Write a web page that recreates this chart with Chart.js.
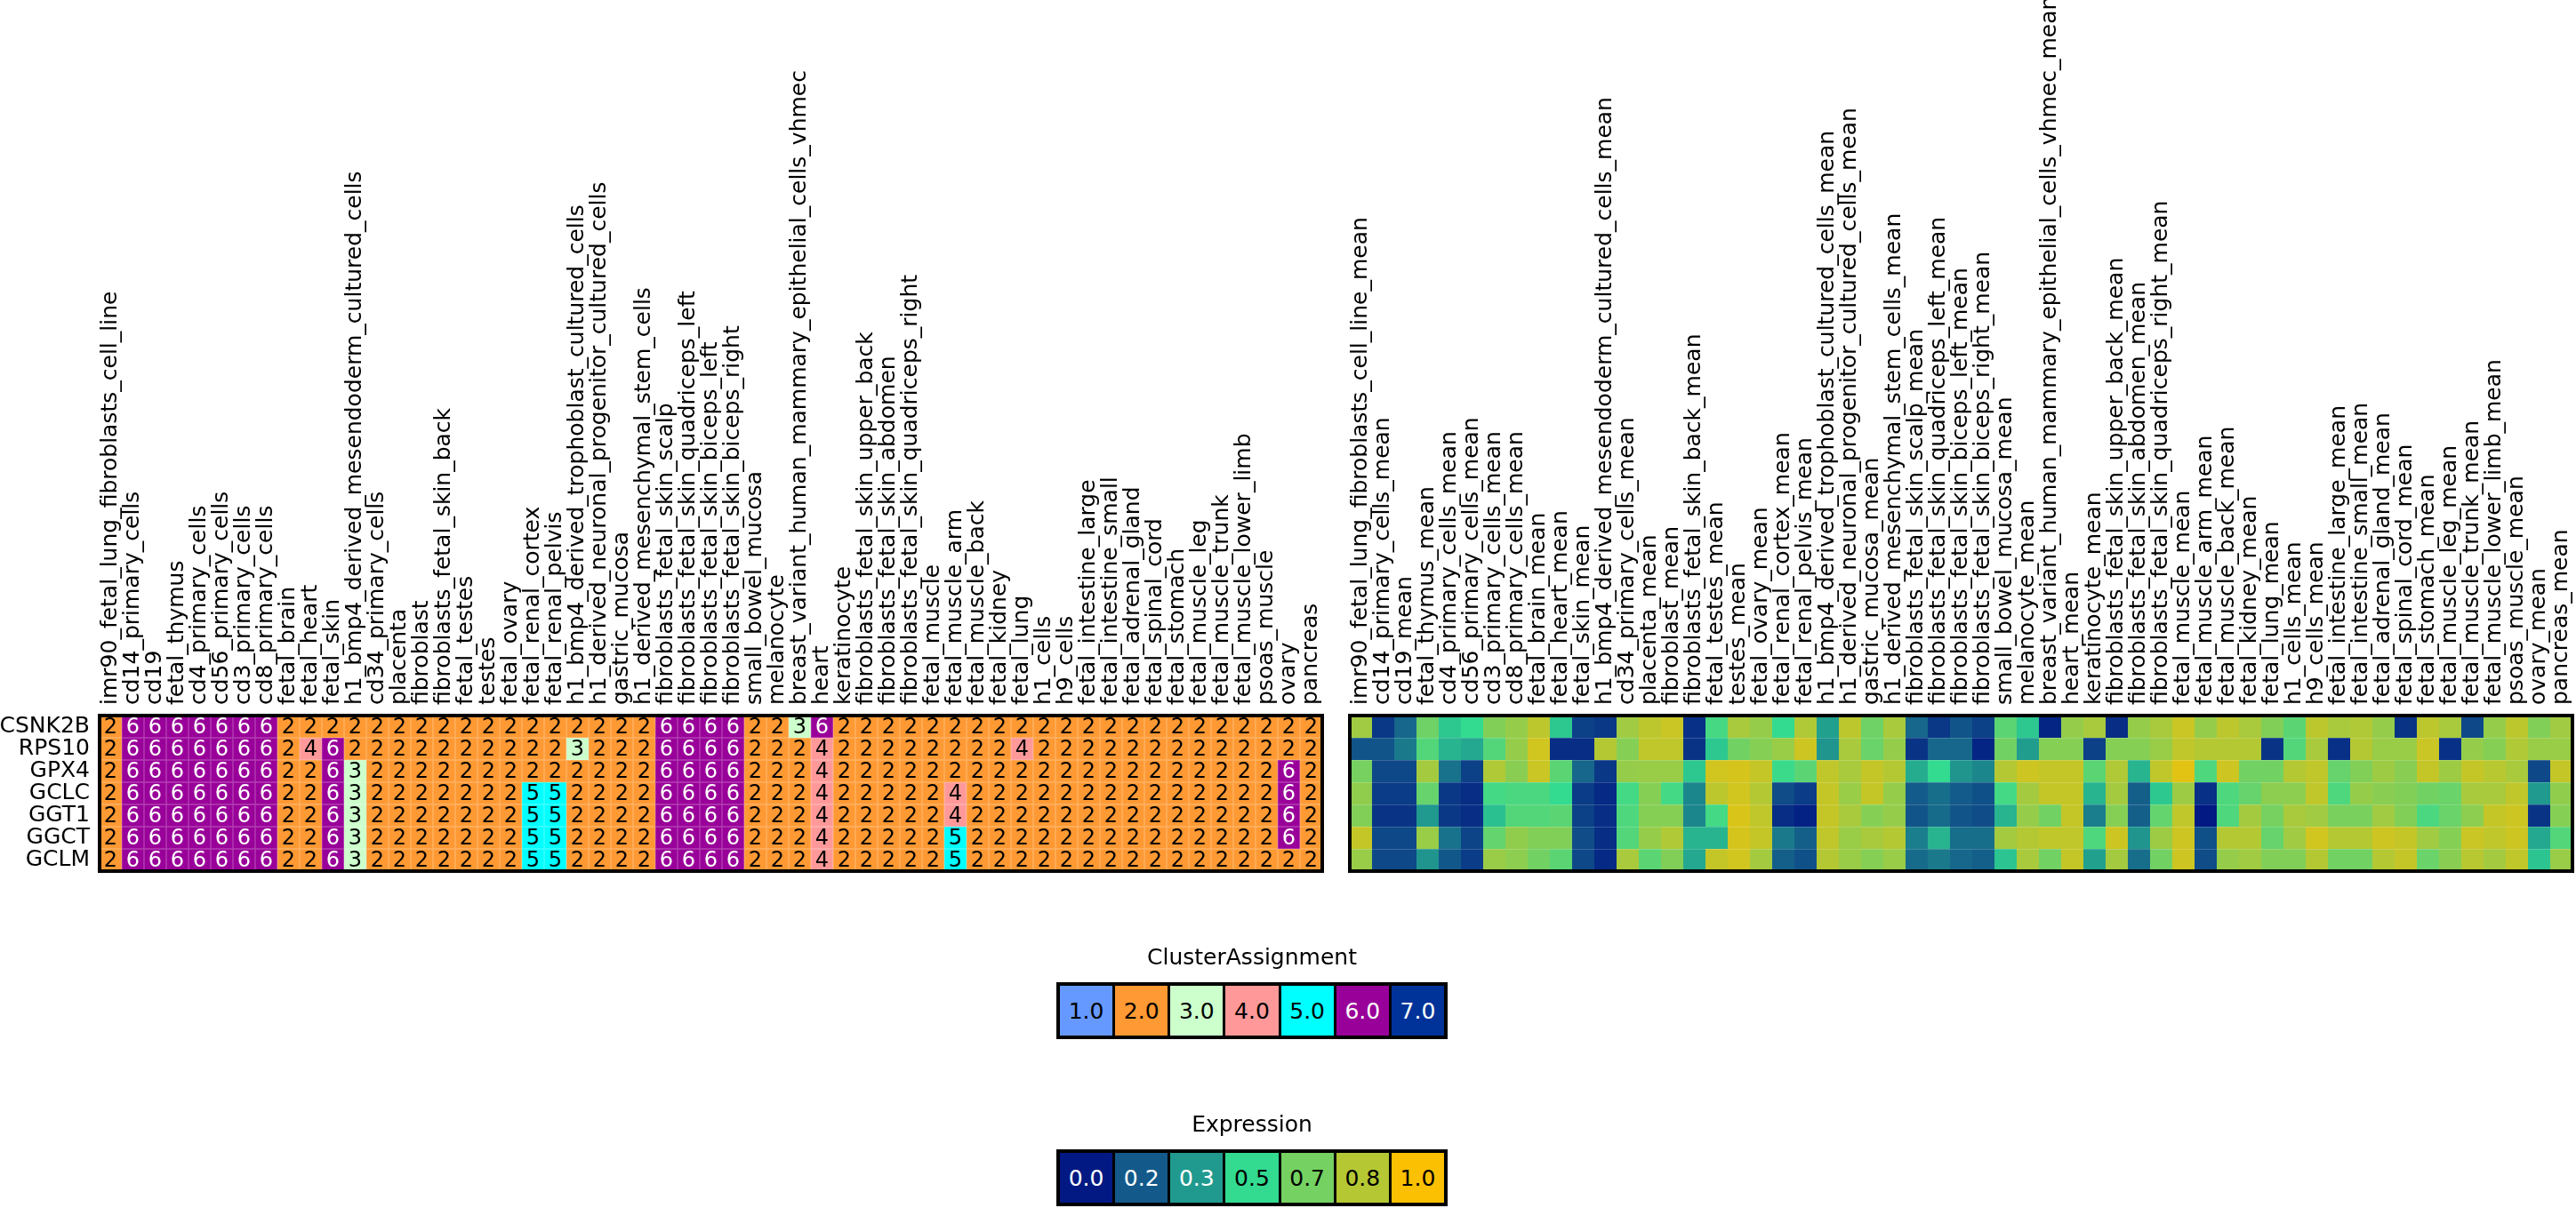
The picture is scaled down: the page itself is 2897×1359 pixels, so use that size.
<!DOCTYPE html>
<html>
<head>
<meta charset="utf-8">
<script src="https://cdn.jsdelivr.net/npm/chart.js@4.4.0/dist/chart.umd.min.js"></script>
<style>
body { margin: 0; background: #fff; width: 2897px; height: 1359px; position: relative; overflow: hidden; font-family: "DejaVu Sans"; }
canvas { position: absolute; left: 0; top: 0; }
.lg-title { position: absolute; left: 1108px; width: 600px; text-align: center; font-size: 25px; line-height: 30px; color: #000; }
.lg-row { position: absolute; left: 1188px; width: 440px; height: 64px; display: flex; box-sizing: border-box; border: 4px solid #000; background: #000; gap: 3px; }
.lg-row div { flex: 1; display: flex; align-items: center; justify-content: center; font-size: 25px; }
</style>
</head>
<body>
<canvas id="clusters" width="2897" height="1359"></canvas>
<canvas id="expression" width="2897" height="1359"></canvas>
<div class="lg-title" style="top:1062px">ClusterAssignment</div>
<div class="lg-row" id="lgCluster" style="top:1105px"></div>
<div class="lg-title" style="top:1250px">Expression</div>
<div class="lg-row" id="lgExpr" style="top:1293px"></div>
<script>
// rows (genes)
var genes = ["CSNK2B", "RPS10", "GPX4", "GCLC", "GGT1", "GGCT", "GCLM"];

// columns (tissues)
var tissues = [
    "imr90_fetal_lung_fibroblasts_cell_line", "cd14_primary_cells", "cd19", "fetal_thymus",
    "cd4_primary_cells", "cd56_primary_cells", "cd3_primary_cells", "cd8_primary_cells",
    "fetal_brain", "fetal_heart", "fetal_skin", "h1_bmp4_derived_mesendoderm_cultured_cells",
    "cd34_primary_cells", "placenta", "fibroblast", "fibroblasts_fetal_skin_back",
    "fetal_testes", "testes", "fetal_ovary", "fetal_renal_cortex", "fetal_renal_pelvis",
    "h1_bmp4_derived_trophoblast_cultured_cells", "h1_derived_neuronal_progenitor_cultured_cells",
    "gastric_mucosa", "h1_derived_mesenchymal_stem_cells", "fibroblasts_fetal_skin_scalp",
    "fibroblasts_fetal_skin_quadriceps_left", "fibroblasts_fetal_skin_biceps_left",
    "fibroblasts_fetal_skin_biceps_right", "small_bowel_mucosa", "melanocyte",
    "breast_variant_human_mammary_epithelial_cells_vhmec", "heart", "keratinocyte",
    "fibroblasts_fetal_skin_upper_back", "fibroblasts_fetal_skin_abdomen",
    "fibroblasts_fetal_skin_quadriceps_right", "fetal_muscle", "fetal_muscle_arm",
    "fetal_muscle_back", "fetal_kidney", "fetal_lung", "h1_cells", "h9_cells",
    "fetal_intestine_large", "fetal_intestine_small", "fetal_adrenal_gland", "fetal_spinal_cord",
    "fetal_stomach", "fetal_muscle_leg", "fetal_muscle_trunk", "fetal_muscle_lower_limb",
    "psoas_muscle", "ovary", "pancreas"
];
var tissuesMean = tissues.map(function (t) { return t + "_mean"; });

// cluster assignment per gene
var clCSNK2B = [2,6,6,6,6,6,6,6,2,2,2,2,2,2,2,2,2,2,2,2,2,2,2,2,2,6,6,6,6,2,2,3,6,2,2,2,2,2,2,2,2,2,2,2,2,2,2,2,2,2,2,2,2,2,2];
var clRPS10  = [2,6,6,6,6,6,6,6,2,4,6,2,2,2,2,2,2,2,2,2,2,3,2,2,2,6,6,6,6,2,2,2,4,2,2,2,2,2,2,2,2,4,2,2,2,2,2,2,2,2,2,2,2,2,2];
var clGPX4   = [2,6,6,6,6,6,6,6,2,2,6,3,2,2,2,2,2,2,2,2,2,2,2,2,2,6,6,6,6,2,2,2,4,2,2,2,2,2,2,2,2,2,2,2,2,2,2,2,2,2,2,2,2,6,2];
var clGCLC   = [2,6,6,6,6,6,6,6,2,2,6,3,2,2,2,2,2,2,2,5,5,2,2,2,2,6,6,6,6,2,2,2,4,2,2,2,2,2,4,2,2,2,2,2,2,2,2,2,2,2,2,2,2,6,2];
var clGGT1   = [2,6,6,6,6,6,6,6,2,2,6,3,2,2,2,2,2,2,2,5,5,2,2,2,2,6,6,6,6,2,2,2,4,2,2,2,2,2,4,2,2,2,2,2,2,2,2,2,2,2,2,2,2,6,2];
var clGGCT   = [2,6,6,6,6,6,6,6,2,2,6,3,2,2,2,2,2,2,2,5,5,2,2,2,2,6,6,6,6,2,2,2,4,2,2,2,2,2,5,2,2,2,2,2,2,2,2,2,2,2,2,2,2,6,2];
var clGCLM   = [2,6,6,6,6,6,6,6,2,2,6,3,2,2,2,2,2,2,2,5,5,2,2,2,2,6,6,6,6,2,2,2,4,2,2,2,2,2,5,2,2,2,2,2,2,2,2,2,2,2,2,2,2,2,2];

// mean expression per gene (0..1)
var exCSNK2B = [0.78,0.08,0.2,0.65,0.45,0.5,0.7,0.75,0.85,0.45,0.1,0.08,0.78,0.85,0.88,0.06,0.55,0.8,0.75,0.5,0.82,0.35,0.85,0.65,0.8,0.2,0.08,0.15,0.1,0.6,0.45,0.03,0.75,0.8,0.05,0.75,0.8,0.88,0.75,0.85,0.8,0.7,0.6,0.85,0.8,0.82,0.75,0.07,0.85,0.8,0.12,0.75,0.85,0.7,0.78];
var exRPS10  = [0.15,0.15,0.25,0.58,0.4,0.37,0.58,0.75,0.9,0.05,0.05,0.83,0.71,0.86,0.86,0.07,0.45,0.66,0.71,0.76,0.89,0.32,0.8,0.64,0.75,0.07,0.2,0.2,0.03,0.66,0.34,0.71,0.71,0.1,0.71,0.71,0.76,0.86,0.83,0.83,0.83,0.07,0.58,0.8,0.06,0.83,0.76,0.76,0.88,0.06,0.75,0.71,0.82,0.76,0.76];
var exGPX4   = [0.67,0.12,0.12,0.79,0.23,0.1,0.82,0.72,0.88,0.6,0.2,0.08,0.75,0.76,0.76,0.45,0.9,0.91,0.87,0.52,0.6,0.86,0.8,0.87,0.83,0.38,0.5,0.32,0.28,0.83,0.89,0.87,0.87,0.6,0.82,0.4,0.86,0.94,0.57,0.89,0.66,0.66,0.83,0.86,0.63,0.7,0.77,0.72,0.87,0.77,0.87,0.84,0.8,0.12,0.87];
var exGCLC   = [0.74,0.09,0.09,0.63,0.08,0.05,0.54,0.56,0.56,0.5,0.09,0.04,0.54,0.71,0.54,0.28,0.85,0.9,0.83,0.13,0.09,0.87,0.76,0.87,0.75,0.17,0.22,0.17,0.14,0.54,0.79,0.87,0.87,0.4,0.79,0.18,0.45,0.77,0.06,0.57,0.63,0.73,0.73,0.86,0.57,0.75,0.72,0.7,0.66,0.64,0.8,0.8,0.86,0.33,0.74];
var exGGT1   = [0.7,0.07,0.07,0.33,0.08,0.05,0.43,0.58,0.58,0.6,0.1,0.05,0.57,0.71,0.71,0.28,0.54,0.92,0.86,0.05,0.02,0.87,0.8,0.71,0.75,0.15,0.21,0.15,0.13,0.4,0.75,0.66,0.87,0.26,0.71,0.18,0.62,0.86,0.0,0.57,0.79,0.67,0.8,0.78,0.68,0.68,0.78,0.7,0.56,0.64,0.73,0.87,0.89,0.07,0.71];
var exGGCT   = [0.87,0.12,0.12,0.76,0.23,0.11,0.62,0.74,0.7,0.7,0.13,0.05,0.58,0.75,0.82,0.4,0.4,0.91,0.87,0.25,0.18,0.86,0.76,0.8,0.83,0.26,0.4,0.22,0.22,0.79,0.83,0.86,0.86,0.57,0.89,0.32,0.77,0.89,0.14,0.83,0.83,0.63,0.78,0.9,0.83,0.83,0.89,0.87,0.78,0.71,0.88,0.86,0.89,0.37,0.58];
var exGCLM   = [0.76,0.12,0.12,0.32,0.16,0.09,0.76,0.73,0.66,0.6,0.12,0.04,0.8,0.6,0.7,0.37,0.87,0.9,0.79,0.18,0.14,0.83,0.76,0.71,0.76,0.21,0.25,0.2,0.18,0.44,0.8,0.66,0.87,0.35,0.79,0.22,0.66,0.89,0.13,0.75,0.78,0.7,0.7,0.83,0.66,0.66,0.83,0.87,0.64,0.72,0.84,0.79,0.86,0.44,0.76];

var clusterRows = [clCSNK2B, clRPS10, clGPX4, clGCLC, clGGT1, clGGCT, clGCLM];
var exprRows = [exCSNK2B, exRPS10, exGPX4, exGCLC, exGGT1, exGGCT, exGCLM];

// legend entries
var clusterTicks = ["1.0", "2.0", "3.0", "4.0", "5.0", "6.0", "7.0"];
var exprTicks = ["0.0", "0.2", "0.3", "0.5", "0.7", "0.8", "1.0"];

var clusterColors = ["#6699ff", "#ff9933", "#ccffcc", "#ff9999", "#00ffff", "#990099", "#003399"];
var exprStops = [[2, 25, 131], [19, 90, 138], [32, 154, 142], [51, 219, 145], [117, 209, 97], [181, 200, 51], [251, 192, 2]];

function hexRgb(h) {
    return [parseInt(h.substr(1, 2), 16), parseInt(h.substr(3, 2), 16), parseInt(h.substr(5, 2), 16)];
}
function exprRgb(v) {
    var t = Math.max(0, Math.min(1, v)) * 6;
    var i = Math.min(5, Math.floor(t));
    var f = t - i;
    var a = exprStops[i], b = exprStops[i + 1];
    return [0, 1, 2].map(function (k) { return Math.round(a[k] + (b[k] - a[k]) * f); });
}
function css(c) { return "rgb(" + c[0] + "," + c[1] + "," + c[2] + ")"; }
function lighten(c, amt) {
    return css(c.map(function (x) { return Math.round(x + (255 - x) * amt); }));
}

var FONT = "DejaVu Sans";

var framePlugin = {
    id: "frame",
    afterDraw: function (chart) {
        var a = chart.chartArea, ctx = chart.ctx;
        ctx.save();
        ctx.lineWidth = 4;
        ctx.strokeStyle = "#000";
        ctx.strokeRect(a.left, a.top, a.right - a.left, a.bottom - a.top);
        ctx.restore();
    }
};

var cellTextPlugin = {
    id: "cellText",
    afterDatasetsDraw: function (chart) {
        var ctx = chart.ctx;
        ctx.save();
        ctx.font = "24px '" + FONT + "'";
        ctx.textAlign = "center";
        ctx.textBaseline = "middle";
        chart.data.datasets.forEach(function (ds, r) {
            chart.getDatasetMeta(r).data.forEach(function (bar, c) {
                var v = clusterRows[r][c];
                ctx.fillStyle = v >= 6 ? "#fff" : "#000";
                ctx.fillText(String(v), bar.x, (bar.y + bar.base) / 2 + 1);
            });
        });
        ctx.restore();
    }
};

function heatmap(id, labels, rows, colorOf, border, area, showRows, plugins) {
    var datasets = genes.map(function (g, r) {
        var rgb = rows[r].map(colorOf);
        return {
            label: g,
            data: labels.map(function () { return [r, r + 1]; }),
            backgroundColor: rgb.map(css),
            borderColor: rgb.map(function (c) { return lighten(c, 0.25); }),
            borderWidth: border,
            borderSkipped: false,
            grouped: false,
            barPercentage: 1,
            categoryPercentage: 1
        };
    });
    return new Chart(document.getElementById(id), {
        type: "bar",
        data: { labels: labels, datasets: datasets },
        options: {
            responsive: false,
            animation: false,
            events: [],
            layout: {
                autoPadding: false,
                padding: { left: showRows ? 0 : area.left, top: 0, right: 2897 - area.right, bottom: 1359 - area.bottom }
            },
            plugins: { legend: { display: false }, tooltip: { enabled: false } },
            scales: {
                x: {
                    position: "top",
                    grid: { display: false, drawTicks: false },
                    border: { display: false },
                    ticks: {
                        autoSkip: false, minRotation: 90, maxRotation: 90, padding: 12,
                        labelOffset: 30,
                        color: "#000", font: { family: FONT, size: 25 }
                    },
                    afterFit: function (s) { s.height = area.top; }
                },
                y: {
                    type: "linear", min: 0, max: 7, reverse: true,
                    display: showRows,
                    grid: { display: false, drawTicks: false },
                    border: { display: false },
                    afterBuildTicks: function (s) {
                        s.ticks = genes.map(function (g, i) { return { value: i + 0.5 }; });
                    },
                    ticks: {
                        autoSkip: false, padding: 11, color: "#000",
                        font: { family: FONT, size: 25 },
                        callback: function (v) { return genes[Math.floor(v)]; }
                    },
                    afterFit: function (s) { if (showRows) { s.width = area.left; } }
                }
            }
        },
        plugins: plugins
    });
}

heatmap("clusters", tissues, clusterRows, function (v) { return hexRgb(clusterColors[v - 1]); }, 1,
    { left: 112, top: 805, right: 1487, bottom: 980 }, true, [framePlugin, cellTextPlugin]);
heatmap("expression", tissuesMean, exprRows, exprRgb, { top: 1, bottom: 0, left: 0, right: 0 },
    { left: 1518, top: 805, right: 2893, bottom: 980 }, false, [framePlugin]);

// legends
function legend(id, ticks, colors, lightText) {
    var row = document.getElementById(id);
    ticks.forEach(function (t, i) {
        var d = document.createElement("div");
        d.textContent = t;
        d.style.background = colors[i];
        d.style.color = lightText(i) ? "#fff" : "#000";
        row.appendChild(d);
    });
}
legend("lgCluster", clusterTicks, clusterColors, function (i) { return i >= 5; });
legend("lgExpr", exprTicks, exprTicks.map(function (t, i) { return css(exprRgb(i / 6)); }), function (i) { return i < 3; });
</script>
</body>
</html>
